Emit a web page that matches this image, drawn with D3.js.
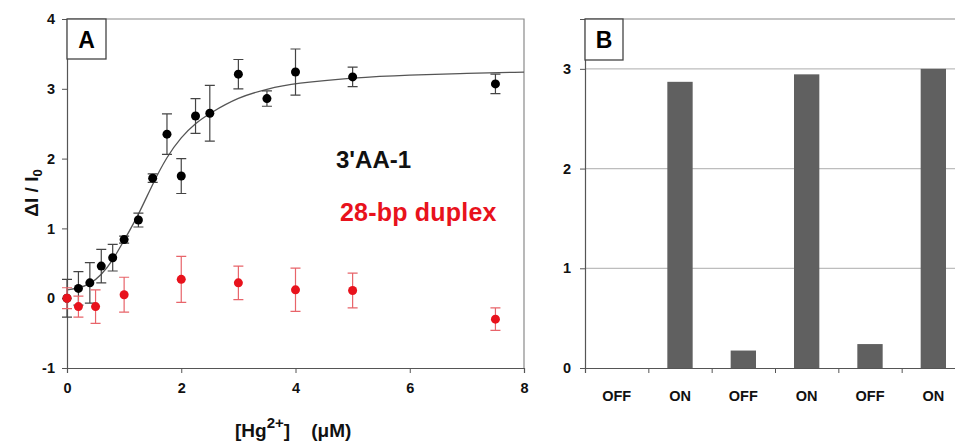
<!DOCTYPE html>
<html><head><meta charset="utf-8">
<script src="https://cdn.jsdelivr.net/npm/d3@7"></script>
<style>body{margin:0;background:#fff}svg{display:block}text{font-family:"Liberation Sans",Arial,sans-serif;font-weight:bold}</style>
</head><body><svg id="c" width="955" height="442"></svg>
<script>
// Panel A data
const aaX   = [0, 0.2, 0.4, 0.6, 0.8, 1.0, 1.25, 1.5, 1.75, 2.0, 2.25, 2.5, 3.0, 3.5, 4.0, 5.0, 7.5];
const aaY   = [0, 0.14, 0.22, 0.46, 0.58, 0.84, 1.12, 1.72, 2.35, 1.75, 2.61, 2.65, 3.21, 2.86, 3.24, 3.17, 3.07];
const aaErr = [0.27, 0.24, 0.29, 0.24, 0.19, 0.05, 0.10, 0.06, 0.29, 0.25, 0.25, 0.40, 0.21, 0.11, 0.33, 0.14, 0.14];
const dpX   = [0, 0.2, 0.5, 1.0, 2.0, 3.0, 4.0, 5.0, 7.5];
const dpY   = [0, -0.12, -0.12, 0.05, 0.27, 0.22, 0.12, 0.11, -0.30];
const dpErr = [0.15, 0.15, 0.24, 0.25, 0.33, 0.24, 0.31, 0.25, 0.16];
const fitX  = [0, 0.2, 0.4, 0.6, 0.8, 1.0, 1.25, 1.5, 1.75, 2.0, 2.25, 2.5, 3.0, 3.5, 4.0, 5.0, 6.0, 7.0, 8.0];
const fitY  = [0.12, 0.14, 0.20, 0.33, 0.54, 0.83, 1.19, 1.64, 2.03, 2.31, 2.51, 2.65, 2.88, 3.00, 3.08, 3.16, 3.20, 3.22, 3.24];
const aXTicks = [0, 2, 4, 6, 8];
const aYTicks = [-1, 0, 1, 2, 3, 4];
// Panel B data
const bCats = ["OFF", "ON", "OFF", "ON", "OFF", "ON"];
const bVals = [0, 2.87, 0.175, 2.945, 0.24, 3.0];
const bYTicks = [0, 1, 2, 3];

const svg = d3.select("#c");
const fmt = d => String(d);

// ---------- Panel A ----------
const ax = d3.scaleLinear().domain([0, 8]).range([67, 524]);
const ay = d3.scaleLinear().domain([-1, 4]).range([368, 19]);
const A = svg.append("g");
A.append("path").attr("d", `M${ax(0)},${ay(4)}H${ax(8)}V${ay(-1)}`).attr("fill","none").attr("stroke","#8a8a8a").attr("stroke-width",1.2);
const axB = A.append("g").attr("transform",`translate(0,${ay(-1)})`).call(d3.axisBottom(ax).tickValues(aXTicks).tickFormat(fmt).tickSize(5).tickPadding(10));
const axL = A.append("g").attr("transform",`translate(${ax(0)},0)`).call(d3.axisLeft(ay).tickValues(aYTicks).tickFormat(fmt).tickSize(5).tickPadding(7));
[axB, axL].forEach(g => {
  g.select(".domain").attr("stroke","#555").attr("stroke-width",1.2);
  g.selectAll(".tick line").attr("stroke","#555");
  g.selectAll("text").attr("font-size",14.5).attr("fill","#111").attr("font-family","Liberation Sans, Arial").attr("font-weight","bold");
});
const line = d3.line().x((d,i)=>ax(fitX[i])).y((d,i)=>ay(fitY[i])).curve(d3.curveBasis);
A.append("path").datum(fitX).attr("d", line).attr("fill","none").attr("stroke","#555").attr("stroke-width",1.3);

function errBars(xs, ys, es, color) {
  const g = A.append("g").attr("stroke", color).attr("stroke-width", 1.2).attr("fill","none");
  xs.forEach((x,i) => {
    const px = ax(x), y1 = ay(ys[i]+es[i]), y2 = ay(ys[i]-es[i]);
    g.append("path").attr("d", `M${px},${y1}V${y2}M${px-5},${y1}H${px+5}M${px-5},${y2}H${px+5}`);
  });
}
errBars(aaX, aaY, aaErr, "#444");
A.append("g").selectAll("circle").data(aaX).join("circle")
  .attr("cx",(d)=>ax(d)).attr("cy",(d,i)=>ay(aaY[i])).attr("r",4.5).attr("fill","#000");
errBars(dpX, dpY, dpErr, "#e8646a");
A.append("g").selectAll("circle").data(dpX).join("circle")
  .attr("cx",(d)=>ax(d)).attr("cy",(d,i)=>ay(dpY[i])).attr("r",4.5).attr("fill","#e8121c");

A.append("rect").attr("x",ax(0)).attr("y",ay(4)).attr("width",39).attr("height",40).attr("fill","#fff").attr("stroke","#444").attr("stroke-width",1.3);
A.append("text").attr("x",ax(0)+19.5).attr("y",ay(4)+29).attr("text-anchor","middle").attr("font-size",23).text("A");
A.append("text").attr("x",336).attr("y",168).attr("font-size",24).attr("fill","#111").text("3'AA-1");
A.append("text").attr("x",340).attr("y",221).attr("font-size",25).attr("fill","#e8121c").attr("letter-spacing","0.2").text("28-bp duplex");
const yt = A.append("text").attr("transform","translate(38,193) rotate(-90)").attr("text-anchor","middle").attr("font-size",19).attr("fill","#111");
yt.append("tspan").text("\u0394I / I");
yt.append("tspan").attr("font-size",13).attr("dy",4).text("0");
const xt = A.append("text").attr("x",235).attr("y",437).attr("font-size",19).attr("fill","#111");
xt.append("tspan").text("[Hg");
xt.append("tspan").attr("font-size",15).attr("dy",-9).text("2+");
xt.append("tspan").attr("dy",9).text("]\u00a0\u00a0\u00a0 (\u03bcM)");

// ---------- Panel B ----------
const bx = d3.scaleBand().domain(d3.range(bCats.length)).range([585, 965]).paddingInner(0.6).paddingOuter(0.3);
const by = d3.scaleLinear().domain([0, 3.5]).range([368, 19]);
const B = svg.append("g");
B.append("g").selectAll("line").data(bYTicks.filter(d=>d>0).concat([3.5])).join("line")
  .attr("x1",585).attr("x2",965).attr("y1",d=>by(d)).attr("y2",d=>by(d))
  .attr("stroke",d=>d===3.5?"#8a8a8a":"#bdbdbd").attr("stroke-width",1.2);
B.append("g").selectAll("rect").data(bVals).join("rect")
  .attr("x",(d,i)=>bx(i)).attr("width",bx.bandwidth())
  .attr("y",d=>by(d)).attr("height",d=>by(0)-by(d)).attr("fill","#606060");
const byL = B.append("g").attr("transform","translate(585,0)").call(d3.axisLeft(by).tickValues(bYTicks).tickFormat(fmt).tickSize(5).tickPadding(9));
const bxScale = d3.scaleLinear().domain([0,6]).range([585,965]);
const byB = B.append("g").attr("transform",`translate(0,${by(0)})`).call(d3.axisBottom(bxScale).tickValues(d3.range(0,7)).tickSize(5).tickFormat(""));
[byL, byB].forEach(g => {
  g.select(".domain").attr("stroke","#555").attr("stroke-width",1.2);
  g.selectAll(".tick line").attr("stroke","#555");
  g.selectAll("text").attr("font-size",14.5).attr("fill","#111").attr("font-family","Liberation Sans, Arial").attr("font-weight","bold");
});
B.append("g").selectAll("text").data(bCats).join("text")
  .attr("x",(d,i)=>bx(i)+bx.bandwidth()/2).attr("y",401).attr("text-anchor","middle")
  .attr("font-size",14.5).attr("fill","#111").text(d=>d);
B.append("rect").attr("x",585).attr("y",19).attr("width",38).attr("height",41).attr("fill","#fff").attr("stroke","#444").attr("stroke-width",1.3);
B.append("text").attr("x",604).attr("y",48).attr("text-anchor","middle").attr("font-size",23).text("B");
</script></body></html>
